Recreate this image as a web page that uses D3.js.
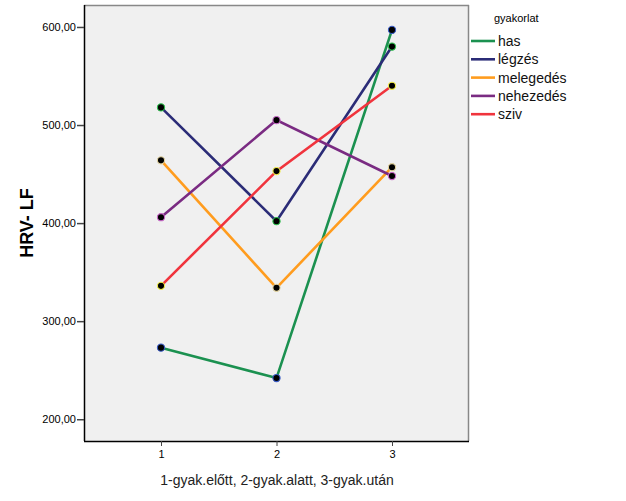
<!DOCTYPE html>
<html><head><meta charset="utf-8">
<script src="https://cdn.jsdelivr.net/npm/d3@7"></script>
<style>body{margin:0;background:#fff;} svg{display:block;font-family:Arial,"Liberation Sans",sans-serif;}</style>
</head><body><svg id="c" width="626" height="501"></svg>
<script>
const categories = [1, 2, 3];
const seriesNames = ["has", "légzés", "melegedés", "nehezedés", "sziv"];
const has = [273, 242, 597];
const legzes = [518, 402, 580];
const melegedes = [464, 334, 457];
const nehezedes = [406, 505, 448];
const sziv = [336, 453, 540];
const yTicks = [200, 300, 400, 500, 600];
const lineColors = ["#1b9150", "#2b2c77", "#ff9c1e", "#7a2b82", "#f0343d"];
const markerStroke = ["#3a5cc8", "#2ec24e", "#e2d3a0", "#c867c8", "#f2ee4a"];
const allSeries = [has, legzes, melegedes, nehezedes, sziv];

const svg = d3.select("#c");
const L = 84, R = 469, T = 5, B = 441;
const x = d3.scaleLinear().domain([1/3, 11/3]).range([L, R]);
const y = d3.scaleLinear().domain([177.8, 622.4]).range([B, T]);

svg.append("rect").attr("x", L).attr("y", T).attr("width", R - L).attr("height", B - T)
  .attr("fill", "#f0f0f0");
// frame
svg.append("line").attr("x1", L).attr("x2", R).attr("y1", T + 0.5).attr("y2", T + 0.5).attr("stroke", "#888").attr("stroke-width", 1.5);
svg.append("line").attr("x1", R - 0.5).attr("x2", R - 0.5).attr("y1", T).attr("y2", B).attr("stroke", "#888").attr("stroke-width", 1.5);

const yAxis = svg.append("g").attr("transform", `translate(${L},0)`)
  .call(d3.axisLeft(y).tickValues(yTicks).tickSize(7).tickSizeOuter(0)
    .tickFormat(d => d3.format(".2f")(d).replace(".", ",")));
yAxis.select(".domain").attr("stroke", "#000").attr("stroke-width", 1.5).attr("d", `M0.5,${T}V${B}`);
yAxis.selectAll(".tick line").attr("stroke", "#444").attr("stroke-width", 1.5);
yAxis.selectAll(".tick text").attr("font-size", "11px").attr("fill", "#000").attr("font-family", "Arial, Liberation Sans, sans-serif").attr("x", -8);

const xAxis = svg.append("g").attr("transform", `translate(0,${B})`)
  .call(d3.axisBottom(x).tickValues(categories).tickSize(5).tickSizeOuter(0).tickFormat(d3.format("d")));
xAxis.select(".domain").attr("stroke", "#000").attr("stroke-width", 1.5).attr("d", `M${L},0.5H${R}`);
xAxis.selectAll(".tick line").attr("stroke", "#444");
xAxis.selectAll(".tick text").attr("font-size", "11px").attr("fill", "#000").attr("font-family", "Arial, Liberation Sans, sans-serif").attr("y", 9);

// titles
svg.append("text").attr("transform", `translate(33,${(T + B) / 2}) rotate(-90)`)
  .attr("text-anchor", "middle").attr("font-weight", "bold").attr("font-size", "18px").text("HRV- LF");
svg.append("text").attr("x", (L + R) / 2 + 0.5).attr("y", 485).attr("text-anchor", "middle")
  .attr("font-size", "14px").attr("fill", "#222").text("1-gyak.előtt, 2-gyak.alatt, 3-gyak.után");

const line = d3.line().x((d, i) => x(categories[i])).y(d => y(d));
allSeries.forEach((s, k) => {
  svg.append("path").datum(s).attr("d", line).attr("fill", "none")
    .attr("stroke", lineColors[k]).attr("stroke-width", 2.6);
});
allSeries.forEach((s, k) => {
  svg.append("g").selectAll("circle").data(s).join("circle")
    .attr("cx", (d, i) => x(categories[i])).attr("cy", d => y(d)).attr("r", 3.6)
    .attr("fill", "#000").attr("stroke", markerStroke[k]).attr("stroke-width", 1.1);
});

// legend
svg.append("text").attr("x", 494).attr("y", 22).attr("font-size", "11px").text("gyakorlat");
const lg = svg.append("g");
seriesNames.forEach((n, k) => {
  const yy = 41 + k * 18.3;
  lg.append("line").attr("x1", 471).attr("x2", 495).attr("y1", yy).attr("y2", yy)
    .attr("stroke", lineColors[k]).attr("stroke-width", 2.6);
  lg.append("text").attr("x", 498).attr("y", yy + 5).attr("font-size", "14px").attr("fill", "#111").text(n);
});
</script></body></html>
